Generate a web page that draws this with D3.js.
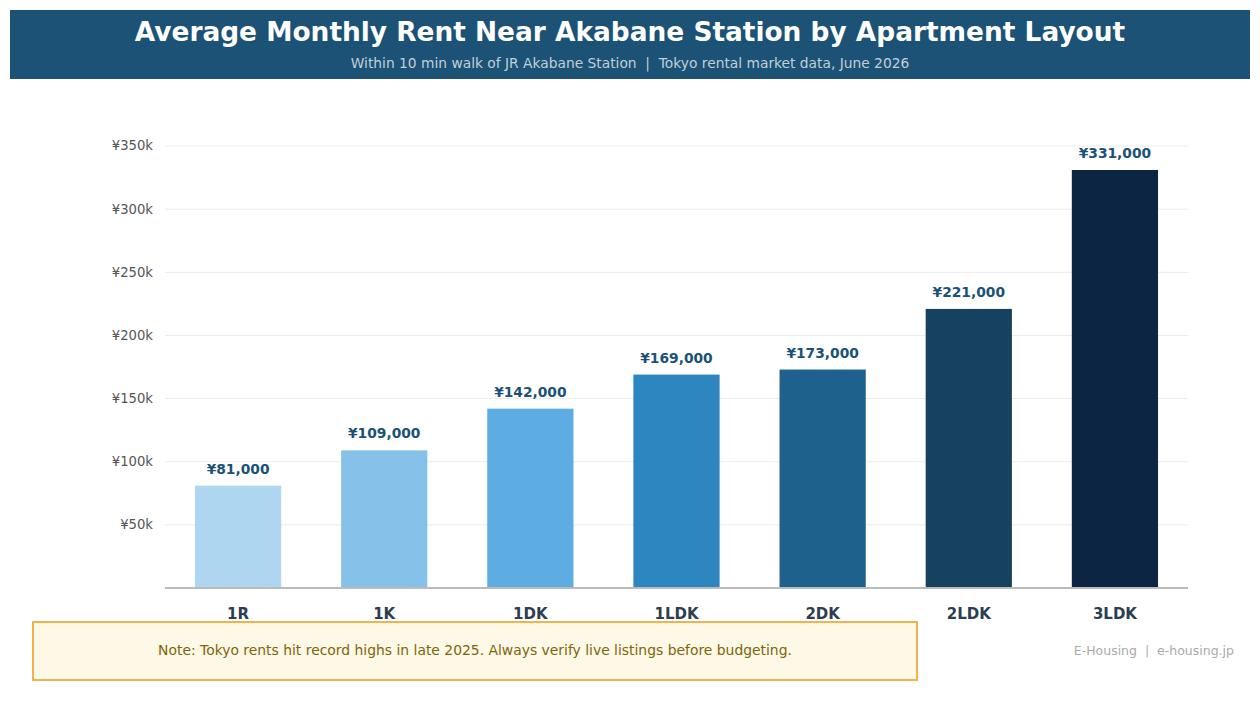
<!DOCTYPE html>
<html>
<head>
<meta charset="utf-8">
<script src="https://cdn.jsdelivr.net/npm/d3@7"></script>
<style>
  body { margin: 0; background: #fff; font-family: "DejaVu Sans", sans-serif; }
</style>
</head>
<body>
<svg id="chart" width="1260" height="713"></svg>
<script>
// Chart data
const layouts = ["1R", "1K", "1DK", "1LDK", "2DK", "2LDK", "3LDK"];
const rents = [81000, 109000, 142000, 169000, 173000, 221000, 331000];
const barColors = ["#aed6f1", "#85c1e9", "#5dade2", "#2e86c1", "#1f618d", "#17425f", "#0b2542"];
const yTicks = [50000, 100000, 150000, 200000, 250000, 300000, 350000];

const svg = d3.select("#chart");

// Header band
svg.append("rect").attr("x", 10).attr("y", 10).attr("width", 1240).attr("height", 69)
    .attr("fill", "#1b5276");
svg.append("text").attr("x", 630).attr("y", 41).attr("text-anchor", "middle")
    .attr("font-size", "26.4px").attr("font-weight", "bold").attr("fill", "#fff")
    .text("Average Monthly Rent Near Akabane Station by Apartment Layout");
svg.append("text").attr("x", 630).attr("y", 68).attr("text-anchor", "middle")
    .attr("font-size", "13.8px").attr("fill", "#c2cfd9").attr("xml:space", "preserve")
    .text("Within 10 min walk of JR Akabane Station  |  Tokyo rental market data, June 2026");

// Scales
const x = d3.scaleBand().domain(layouts).range([165, 1188])
    .paddingInner(0.41).paddingOuter(0.205);
const y = d3.scaleLinear().domain([0, 350000]).range([588, 146]);

// Grid lines
svg.append("g").selectAll("line").data(yTicks).enter().append("line")
    .attr("x1", 165).attr("x2", 1188)
    .attr("y1", d => y(d)).attr("y2", d => y(d))
    .attr("stroke", "#ebebeb").attr("stroke-width", 1);

// Y axis labels
const yAxis = svg.append("g").attr("transform", "translate(165,0)")
    .call(d3.axisLeft(y).tickValues(yTicks).tickSize(0).tickPadding(12)
        .tickFormat(d => "¥" + d / 1000 + "k"));
yAxis.select(".domain").remove();
yAxis.selectAll("text").attr("font-size", "13.2px").attr("fill", "#555")
    .attr("font-family", "DejaVu Sans, sans-serif").attr("dy", "0.3em");

// Bars
svg.append("g").selectAll("rect").data(rents).enter().append("rect")
    .attr("x", (d, i) => x(layouts[i]))
    .attr("y", d => y(d))
    .attr("width", x.bandwidth())
    .attr("height", d => y(0) - y(d))
    .attr("fill", (d, i) => barColors[i]);

// Value labels
svg.append("g").selectAll("text").data(rents).enter().append("text")
    .attr("x", (d, i) => x(layouts[i]) + x.bandwidth() / 2)
    .attr("y", d => y(d) - 12)
    .attr("text-anchor", "middle")
    .attr("font-size", "13.8px").attr("font-weight", "bold").attr("fill", "#1a5276")
    .text(d => "¥" + d3.format(",")(d));

// Baseline
svg.append("line").attr("x1", 165).attr("x2", 1188).attr("y1", 588).attr("y2", 588)
    .attr("stroke", "#bbb").attr("stroke-width", 2);

// Category labels
const xAxis = svg.append("g").attr("transform", "translate(0,588)")
    .call(d3.axisBottom(x).tickSize(0).tickPadding(20));
xAxis.select(".domain").remove();
xAxis.selectAll("text").attr("font-size", "15px").attr("font-weight", "bold")
    .attr("fill", "#2c3e50").attr("font-family", "DejaVu Sans, sans-serif");

// Note box
svg.append("rect").attr("x", 33).attr("y", 622).attr("width", 884).attr("height", 58)
    .attr("fill", "#fef8e6").attr("stroke", "#f3a93a").attr("stroke-width", 1.8);
svg.append("text").attr("x", 475).attr("y", 655).attr("text-anchor", "middle")
    .attr("font-size", "13.9px").attr("fill", "#7d6608")
    .text("Note: Tokyo rents hit record highs in late 2025. Always verify live listings before budgeting.");

// Source
svg.append("text").attr("x", 1234).attr("y", 655).attr("text-anchor", "end")
    .attr("font-size", "12.5px").attr("fill", "#aaa").attr("xml:space", "preserve")
    .text("E-Housing  |  e-housing.jp");
</script>
</body>
</html>
